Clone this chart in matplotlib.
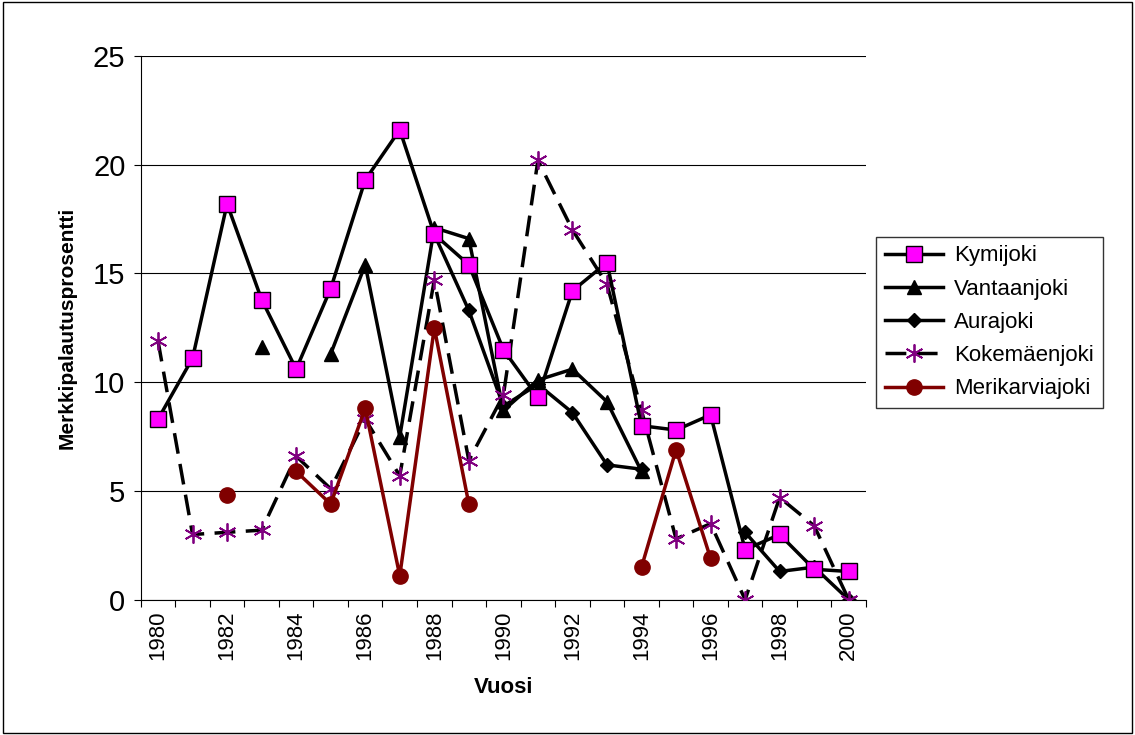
import numpy as np
import matplotlib.pyplot as plt

plt.rcParams['font.family'] = ['Liberation Sans', 'DejaVu Sans']

years = np.arange(1980, 2001)
nan = np.nan

kymijoki = [8.3, 11.1, 18.2, 13.8, 10.6, 14.3, 19.3, 21.6, 16.8, 15.4, 11.5,
            9.3, 14.2, 15.5, 8.0, 7.8, 8.5, 2.3, 3.0, 1.4, 1.3]
vantaanjoki = [nan, nan, nan, 11.6, nan, 11.3, 15.4, 7.5, 17.1, 16.6, 8.7,
               10.1, 10.6, 9.1, 5.9, nan, nan, nan, nan, nan, nan]
aurajoki = [nan, nan, nan, nan, nan, nan, nan, nan, 16.8, 13.3, 8.9,
            9.9, 8.6, 6.2, 6.0, nan, nan, 3.1, 1.3, 1.5, 0.0]
kokemaenjoki = [11.9, 3.0, 3.1, 3.2, 6.6, 5.1, 8.3, 5.7, 14.7, 6.4, 9.4,
                20.2, 17.0, 14.5, 8.7, 2.8, 3.5, 0.0, 4.7, 3.4, 0.0]
merikarviajoki = [nan, nan, 4.8, nan, 5.9, 4.4, 8.8, 1.1, 12.5, 4.4, nan,
                  nan, nan, nan, 1.5, 6.9, 1.9, nan, nan, nan, nan]

fig = plt.figure(figsize=(11.35, 7.35), dpi=100)
ax = fig.add_axes([0.124, 0.184, 0.639, 0.74])
fig.patches.append(plt.Rectangle((0.003, 0.003), 0.994, 0.994, transform=fig.transFigure,
                                 fill=False, edgecolor='black', linewidth=1))

x = np.arange(len(years)) + 0.5
ax.plot(x, kymijoki, color='black', lw=2.5, marker='s', ms=11,
        mfc='#ff00ff', mec='black', mew=1, label='Kymijoki', zorder=5)
ax.plot(x, vantaanjoki, color='black', lw=2.5, marker='^', ms=10,
        mfc='black', label='Vantaanjoki', zorder=3)
ax.plot(x, aurajoki, color='black', lw=2.5, marker='D', ms=7,
        mfc='black', label='Aurajoki', zorder=3)
ax.plot(x, kokemaenjoki, color='black', lw=2.5, ls=(0, (6, 3)), marker=(6, 2, 0), ms=13,
        mec='#800080', mew=1.3, label='Kokemäenjoki', zorder=4)
ax.plot(x, merikarviajoki, color='#800000', lw=2.5, marker='o', ms=11,
        mfc='#800000', mec='#800000', label='Merikarviajoki', zorder=4)

ax.set_xlim(0, len(years))
ax.set_ylim(0, 25)
ax.set_yticks(range(0, 26, 5))
ax.set_xticks(np.arange(len(years) + 1), minor=False)
ax.set_xticklabels([])
ax.set_xticks(x[::2], minor=True)
ax.set_xticklabels([str(y) for y in years[::2]], minor=True, rotation=90, fontsize=16)
ax.tick_params(axis='x', which='minor', length=0, pad=8)
ax.tick_params(axis='x', which='major', length=5, direction='out')
ax.tick_params(axis='y', labelsize=21, length=5, pad=6)
ax.grid(axis='y', color='black', lw=0.8)
ax.set_axisbelow(True)
for s in ['top', 'right']:
    ax.spines[s].set_visible(False)

ax.set_xlabel('Vuosi', fontsize=16, fontweight='bold', labelpad=12)
ax.set_ylabel('Merkkipalautusprosentti', fontsize=15, fontweight='bold', labelpad=12)

ax.legend(loc='center left', bbox_to_anchor=(1.014, 0.51), fontsize=16,
          frameon=True, fancybox=False, edgecolor='black', handlelength=2.6,
          handletextpad=0.5, labelspacing=0.55, borderaxespad=0, borderpad=0.4)

fig.savefig('out.png')
